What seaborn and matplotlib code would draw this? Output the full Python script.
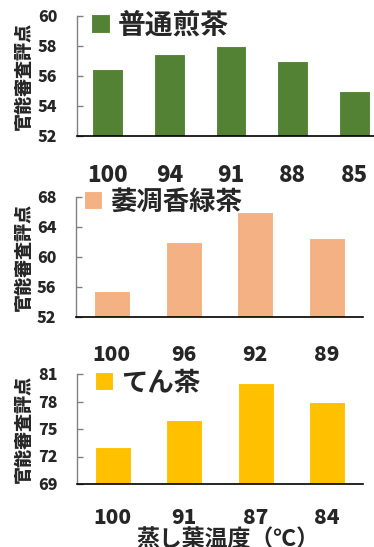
import matplotlib
matplotlib.use("Agg")
import matplotlib.pyplot as plt
import seaborn as sns
import pandas as pd

sns.set_theme(style="white")
plt.rcParams['font.family'] = ['Noto Sans CJK JP', 'DejaVu Sans']

# data
cats1 = ["100", "94", "91", "88", "85"]
vals1 = [56.5, 57.5, 58.0, 57.0, 55.0]
cats2 = ["100", "96", "92", "89"]
vals2 = [55.5, 62.0, 66.0, 62.5]
cats3 = ["100", "91", "87", "84"]
vals3 = [73.0, 76.0, 80.0, 78.0]
names = ["普通煎茶", "萎凋香緑茶", "てん茶"]
ylabel = "官能審査評点"
xlabel = "蒸し葉温度（℃）"
yticks1 = [52, 54, 56, 58, 60]
yticks2 = [52, 56, 60, 64, 68]
yticks3 = [69, 72, 75, 78, 81]

colors = ["#548235", "#F4B183", "#FFC000"]

W, H = 374, 547
fig = plt.figure(figsize=(W / 100, H / 100), dpi=100)

def px_axes(x0, x1, y0, y1):
    return fig.add_axes([x0 / W, (H - y1) / H, (x1 - x0) / W, (y1 - y0) / H])

specs = [
    (px_axes(77, 385, 16, 136), cats1, vals1, yticks1, names[0], colors[0], 16, 20, (0.045, 0.92), 20),
    (px_axes(76, 363, 197, 317), cats2, vals2, yticks2, names[1], colors[1], 15, 20, (0.028, 0.958), 19),
    (px_axes(77, 363, 374, 484), cats3, vals3, yticks3, names[2], colors[2], 15, 17, (0.063, 0.918), 19),
]

for i, (ax, cats, vals, yt, name, col, xfs, xpad, legpos, lfs) in enumerate(specs):
    df = pd.DataFrame({"temp": cats, "score": vals})
    sns.barplot(data=df, x="temp", y="score", order=cats, color=col, width=0.5,
                saturation=1, edgecolor="white", linewidth=0.8, ax=ax, label=name)
    ax.set_ylim(yt[0], yt[-1])
    ax.set_yticks(yt)
    ax.set_xlim(-0.5, len(cats) - 0.5)
    for s in ["top", "right"]:
        ax.spines[s].set_visible(False)
    ax.spines["left"].set_color("#808080")
    ax.spines["left"].set_linewidth(1.0)
    ax.spines["bottom"].set_color("black")
    ax.spines["bottom"].set_linewidth(1.2)
    ax.tick_params(axis="y", direction="in", length=4, width=1, color="#808080",
                   left=True, labelsize=11.5, pad=14)
    ax.tick_params(axis="x", length=0, labelsize=xfs, pad=xpad)
    for lab in ax.get_yticklabels() + ax.get_xticklabels():
        lab.set_fontweight("black")
    ax.set_ylabel(ylabel, fontsize=13, fontweight="black")
    ax.set_xlabel("")
    bb = ax.get_position()
    ax.yaxis.set_label_coords((33 / W - bb.x0) / bb.width, 0.5)
    leg = ax.legend(loc="center left", bbox_to_anchor=legpos, frameon=False,
                    prop={"size": lfs, "weight": "bold"},
                    handlelength=0.68, handleheight=0.68,
                    handletextpad=0.3, borderpad=0, borderaxespad=0)
    ax.grid(False)

ax3 = specs[2][0]
ax3.set_xlabel(xlabel, fontsize=16.5, fontweight="bold")
ax3.xaxis.set_label_coords((228 - 77) / 286, (484 - 529) / 110)

fig.savefig("out.png", dpi=100)
